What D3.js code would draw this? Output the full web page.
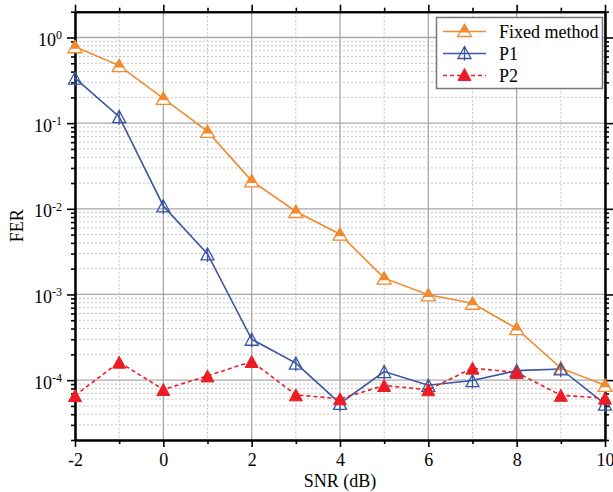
<!DOCTYPE html>
<html><head><meta charset="utf-8">
<script src="https://cdn.jsdelivr.net/npm/d3@7"></script>
<style>body{margin:0;background:#fff}svg{display:block}</style>
</head><body><svg id="c" width="613" height="492"></svg>
<script>
const snr = [-2,-1,0,1,2,3,4,5,6,7,8,9,10];
const fixedMethod = [0.78,0.47,0.195,0.080,0.0212,0.0093,0.00505,0.00155,0.00099,0.00079,0.00040,0.000138,0.000087];
const p1 = [0.336,0.119,0.0108,0.00297,0.00030,0.000158,0.0000535,0.000126,0.000087,0.0000988,0.000129,0.000135,0.0000525];
const p2 = [0.000066,0.000162,0.0000776,0.000112,0.000165,0.0000673,0.0000605,0.0000865,0.0000772,0.000138,0.000123,0.0000665,0.0000616];
const xMajor = [-2,0,2,4,6,8,10];
const xMinor = [-1,1,3,5,7,9];
const yExp = [-4,-3,-2,-1,0];
const seriesNames = ["Fixed method","P1","P2"];

const svg = d3.select("#c");
const L=75,R=605,T=11.7,B=440;
const x = d3.scaleLinear().domain([-2,10]).range([L,R]);
const y = d3.scaleLog().domain([2e-5,2]).range([B,T]);
const font = "'Liberation Serif','Times New Roman',serif";
const FS = 18;
const orange="#F28A2E", blue="#3A54A4", red="#ED1C24";

const yMajor = yExp.map(e=>Math.pow(10,e));
const yMinor = [];
for (let e=-5;e<=0;e++) for (let k=2;k<=9;k++){const v=k*Math.pow(10,e); if(v>=2e-5&&v<=2) yMinor.push(v);}

const g = svg.append("g");
g.selectAll(".ymin").data(yMinor).enter().append("line")
 .attr("x1",L).attr("x2",R).attr("y1",d=>y(d)).attr("y2",d=>y(d))
 .attr("stroke","#c4c4c4").attr("stroke-width",1).attr("stroke-dasharray","2,2");
g.selectAll(".xmin").data(xMinor).enter().append("line")
 .attr("y1",T).attr("y2",B).attr("x1",d=>x(d)).attr("x2",d=>x(d))
 .attr("stroke","#c4c4c4").attr("stroke-width",1).attr("stroke-dasharray","2,2");
g.selectAll(".ymaj").data(yMajor).enter().append("line")
 .attr("x1",L).attr("x2",R).attr("y1",d=>y(d)).attr("y2",d=>y(d))
 .attr("stroke","#a8a8a8").attr("stroke-width",1.3);
g.selectAll(".xmaj").data(xMajor).enter().append("line")
 .attr("y1",T).attr("y2",B).attr("x1",d=>x(d)).attr("x2",d=>x(d))
 .attr("stroke","#a8a8a8").attr("stroke-width",1.3);

function styleAxis(sel){
  sel.select(".domain").attr("stroke","#000").attr("stroke-width",2);
  sel.selectAll(".tick line").attr("stroke","#000").attr("stroke-width",1.6);
}
const bx = svg.append("g").attr("transform",`translate(0,${B})`)
 .call(d3.axisBottom(x).tickValues(xMajor).tickSize(7).tickSizeOuter(0).tickPadding(6).tickFormat(d=>String(d)));
bx.selectAll("text").attr("font-family",font).attr("font-size",FS).attr("fill","#000");
styleAxis(bx);
const bxm = svg.append("g").attr("transform",`translate(0,${B})`)
 .call(d3.axisBottom(x).tickValues(xMinor).tickSize(4).tickSizeOuter(0).tickFormat(""));
styleAxis(bxm);
const tx = svg.append("g").attr("transform",`translate(0,${T})`)
 .call(d3.axisTop(x).tickValues(xMajor).tickSize(7).tickSizeOuter(0).tickFormat(""));
styleAxis(tx);
const txm = svg.append("g").attr("transform",`translate(0,${T})`)
 .call(d3.axisTop(x).tickValues(xMinor).tickSize(4).tickSizeOuter(0).tickFormat(""));
styleAxis(txm);

const ly = svg.append("g").attr("transform",`translate(${L},0)`)
 .call(d3.axisLeft(y).tickValues(yMajor).tickSize(8).tickSizeOuter(0).tickFormat(""));
styleAxis(ly);
ly.selectAll(".tick").append("text")
 .attr("x",-13).attr("y",8).attr("text-anchor","end")
 .attr("font-family",font).attr("font-size",FS).attr("fill","#000")
 .each(function(d){
   const t=d3.select(this);
   t.append("tspan").text("10");
   t.append("tspan").attr("dy","-0.55em").attr("font-size",12).text(String(Math.round(Math.log10(d))));
 });
const lym = svg.append("g").attr("transform",`translate(${L},0)`)
 .call(d3.axisLeft(y).tickValues(yMinor).tickSize(4).tickSizeOuter(0).tickFormat(""));
styleAxis(lym);
const ry = svg.append("g").attr("transform",`translate(${R},0)`)
 .call(d3.axisRight(y).tickValues(yMajor).tickSize(8).tickSizeOuter(0).tickFormat(""));
styleAxis(ry);
const rym = svg.append("g").attr("transform",`translate(${R},0)`)
 .call(d3.axisRight(y).tickValues(yMinor).tickSize(4).tickSizeOuter(0).tickFormat(""));
styleAxis(rym);

svg.append("text").attr("x",(L+R)/2).attr("y",487).attr("text-anchor","middle")
 .attr("font-family",font).attr("font-size",FS).text("SNR (dB)");
svg.append("text").attr("transform",`translate(23,${(T+B)/2}) rotate(-90)`).attr("text-anchor","middle")
 .attr("font-family",font).attr("font-size",FS).text("FER");

function triPath(cx,cy,w,h){return `M${cx},${cy-h/2}L${cx+w/2},${cy+h/2}L${cx-w/2},${cy+h/2}Z`;}
function markFixed(sel,cx,cy){
  sel.append("path").attr("d",triPath(cx,cy,14,12)).attr("fill","#fff").attr("stroke",orange).attr("stroke-width",1.3);
  const f=0.62, h=12, w=14;
  sel.append("path").attr("d",`M${cx},${cy-h/2}L${cx+w/2*f},${cy-h/2+h*f}L${cx-w/2*f},${cy-h/2+h*f}Z`).attr("fill",orange).attr("stroke",orange).attr("stroke-width",1.2);
}
function markP1(sel,cx,cy){
  sel.append("path").attr("d",triPath(cx,cy,13,12)).attr("fill","none").attr("stroke",blue).attr("stroke-width",1.3);
  sel.append("line").attr("x1",cx).attr("x2",cx).attr("y1",cy-6).attr("y2",cy+8).attr("stroke",blue).attr("stroke-width",1.3);
}
function markP2(sel,cx,cy){
  sel.append("path").attr("d",triPath(cx,cy,13,12)).attr("fill",red).attr("stroke",red).attr("stroke-width",1);
}

const series = [
 {name:seriesNames[0],vals:fixedMethod,color:orange,dash:null,mark:markFixed},
 {name:seriesNames[1],vals:p1,color:blue,dash:null,mark:markP1},
 {name:seriesNames[2],vals:p2,color:red,dash:"4,3",mark:markP2}
];
const line = d3.line().x(d=>x(d[0])).y(d=>y(d[1]));
series.forEach(s=>{
  const pts = snr.map((v,i)=>[v,s.vals[i]]);
  svg.append("path").attr("d",line(pts)).attr("fill","none").attr("stroke",s.color)
   .attr("stroke-width",1.6).attr("stroke-dasharray",s.dash);
});
series.forEach(s=>{
  const mg = svg.append("g");
  snr.forEach((v,i)=>s.mark(mg,x(v),y(s.vals[i])));
});

const lg = svg.append("g");
lg.append("rect").attr("x",436.5).attr("y",17.5).attr("width",166).attr("height",71)
 .attr("fill","#fff").attr("stroke","#777").attr("stroke-width",1.5);
series.forEach((s,i)=>{
  const cy = 31.5 + i*22;
  lg.append("line").attr("x1",443).attr("x2",486).attr("y1",cy).attr("y2",cy)
   .attr("stroke",s.color).attr("stroke-width",1.6).attr("stroke-dasharray",s.dash);
  s.mark(lg,464.5,cy-1);
  lg.append("text").attr("x",499).attr("y",cy+6).attr("font-family",font).attr("font-size",FS).text(s.name);
});
</script></body></html>
